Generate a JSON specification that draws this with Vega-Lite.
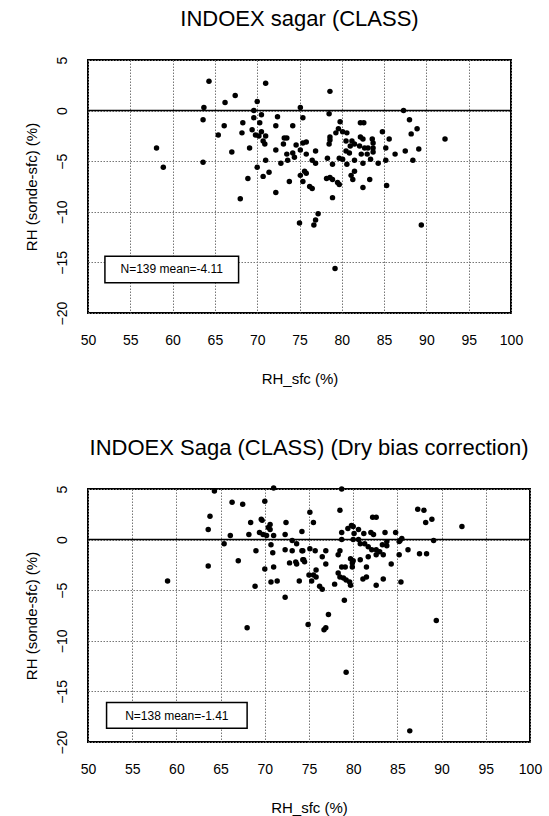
{
  "$schema": "https://vega.github.io/schema/vega-lite/v6.json",
  "background": "white",
  "padding": {"left": 23, "top": 7, "right": 5, "bottom": 2},
  "bounds": "flush",
  "spacing": 176,
  "datasets": {
    "top": [
      {"rh_sfc":64.3,"diff":2.9},{"rh_sfc":71.0,"diff":2.7},{"rh_sfc":67.4,"diff":1.5},{"rh_sfc":66.2,"diff":0.8},{"rh_sfc":70.0,"diff":0.9},
      {"rh_sfc":63.7,"diff":0.3},{"rh_sfc":69.6,"diff":0.0},{"rh_sfc":75.1,"diff":0.3},{"rh_sfc":63.6,"diff":-0.9},{"rh_sfc":69.6,"diff":-0.7},
      {"rh_sfc":70.5,"diff":-0.4},{"rh_sfc":72.4,"diff":-0.6},{"rh_sfc":75.4,"diff":-0.7},{"rh_sfc":66.1,"diff":-1.5},{"rh_sfc":68.3,"diff":-1.2},
      {"rh_sfc":70.3,"diff":-1.2},{"rh_sfc":72.2,"diff":-1.5},{"rh_sfc":74.2,"diff":-1.5},{"rh_sfc":65.4,"diff":-2.4},{"rh_sfc":68.2,"diff":-2.2},
      {"rh_sfc":69.4,"diff":-1.9},{"rh_sfc":69.8,"diff":-2.4},{"rh_sfc":70.5,"diff":-2.1},{"rh_sfc":71.0,"diff":-2.5},{"rh_sfc":70.2,"diff":-2.5},
      {"rh_sfc":73.2,"diff":-2.7},{"rh_sfc":73.5,"diff":-2.7},{"rh_sfc":70.7,"diff":-3.0},{"rh_sfc":70.9,"diff":-3.3},{"rh_sfc":73.1,"diff":-3.3},
      {"rh_sfc":74.6,"diff":-3.4},{"rh_sfc":75.4,"diff":-3.2},{"rh_sfc":58.1,"diff":-3.7},{"rh_sfc":69.1,"diff":-3.7},{"rh_sfc":72.2,"diff":-3.9},
      {"rh_sfc":75.1,"diff":-3.9},{"rh_sfc":67.0,"diff":-4.1},{"rh_sfc":73.5,"diff":-4.3},{"rh_sfc":74.2,"diff":-4.2},{"rh_sfc":74.4,"diff":-4.6},
      {"rh_sfc":73.6,"diff":-4.9},{"rh_sfc":63.6,"diff":-5.1},{"rh_sfc":71.0,"diff":-4.9},{"rh_sfc":72.8,"diff":-5.2},{"rh_sfc":58.9,"diff":-5.6},
      {"rh_sfc":70.0,"diff":-5.6},{"rh_sfc":71.4,"diff":-6.1},{"rh_sfc":70.7,"diff":-6.5},{"rh_sfc":68.9,"diff":-6.7},{"rh_sfc":73.8,"diff":-7.0},
      {"rh_sfc":75.1,"diff":-6.4},{"rh_sfc":75.4,"diff":-7.0},{"rh_sfc":78.6,"diff":1.9},{"rh_sfc":87.3,"diff":0.0},{"rh_sfc":88.0,"diff":-0.9},
      {"rh_sfc":88.9,"diff":-1.8},{"rh_sfc":88.2,"diff":-2.3},{"rh_sfc":92.2,"diff":-2.8},{"rh_sfc":78.5,"diff":-0.3},{"rh_sfc":79.8,"diff":-1.1},
      {"rh_sfc":82.2,"diff":-1.2},{"rh_sfc":82.6,"diff":-1.2},{"rh_sfc":79.6,"diff":-1.8},{"rh_sfc":80.1,"diff":-2.1},{"rh_sfc":80.6,"diff":-2.2},
      {"rh_sfc":84.8,"diff":-2.1},{"rh_sfc":79.3,"diff":-2.2},{"rh_sfc":78.6,"diff":-2.6},{"rh_sfc":78.6,"diff":-2.9},{"rh_sfc":82.2,"diff":-2.6},
      {"rh_sfc":82.5,"diff":-2.8},{"rh_sfc":83.6,"diff":-2.8},{"rh_sfc":85.6,"diff":-2.8},{"rh_sfc":80.5,"diff":-3.0},{"rh_sfc":81.2,"diff":-3.0},
      {"rh_sfc":81.5,"diff":-3.3},{"rh_sfc":81.0,"diff":-3.5},{"rh_sfc":75.8,"diff":-3.1},{"rh_sfc":78.5,"diff":-3.3},{"rh_sfc":82.1,"diff":-3.5},
      {"rh_sfc":82.7,"diff":-3.7},{"rh_sfc":83.1,"diff":-3.7},{"rh_sfc":83.7,"diff":-3.2},{"rh_sfc":83.7,"diff":-3.7},{"rh_sfc":85.2,"diff":-3.7},
      {"rh_sfc":80.5,"diff":-4.0},{"rh_sfc":80.9,"diff":-4.2},{"rh_sfc":76.9,"diff":-4.0},{"rh_sfc":82.3,"diff":-4.3},{"rh_sfc":83.0,"diff":-4.3},
      {"rh_sfc":83.7,"diff":-4.1},{"rh_sfc":86.3,"diff":-4.3},{"rh_sfc":87.5,"diff":-4.0},{"rh_sfc":89.1,"diff":-3.8},{"rh_sfc":75.8,"diff":-4.3},
      {"rh_sfc":78.3,"diff":-4.7},{"rh_sfc":79.7,"diff":-4.7},{"rh_sfc":80.1,"diff":-4.8},{"rh_sfc":76.5,"diff":-4.9},{"rh_sfc":76.9,"diff":-5.2},
      {"rh_sfc":81.5,"diff":-4.9},{"rh_sfc":82.5,"diff":-5.2},{"rh_sfc":83.4,"diff":-4.8},{"rh_sfc":84.3,"diff":-5.2},{"rh_sfc":85.2,"diff":-4.9},
      {"rh_sfc":88.4,"diff":-4.9},{"rh_sfc":78.9,"diff":-5.3},{"rh_sfc":80.6,"diff":-5.3},{"rh_sfc":75.6,"diff":-6.0},{"rh_sfc":75.8,"diff":-6.2},
      {"rh_sfc":78.2,"diff":-6.7},{"rh_sfc":78.6,"diff":-6.6},{"rh_sfc":78.9,"diff":-6.8},{"rh_sfc":81.5,"diff":-6.0},{"rh_sfc":81.3,"diff":-6.8},
      {"rh_sfc":83.3,"diff":-6.8},{"rh_sfc":79.5,"diff":-7.1},{"rh_sfc":79.7,"diff":-7.3},{"rh_sfc":81.1,"diff":-6.4},{"rh_sfc":82.5,"diff":-7.6},
      {"rh_sfc":85.3,"diff":-7.4},{"rh_sfc":76.2,"diff":-7.5},{"rh_sfc":76.5,"diff":-7.7},{"rh_sfc":78.9,"diff":-8.6},{"rh_sfc":77.2,"diff":-10.2},
      {"rh_sfc":76.9,"diff":-10.8},{"rh_sfc":76.7,"diff":-11.3},{"rh_sfc":75.0,"diff":-11.1},{"rh_sfc":89.4,"diff":-11.3},{"rh_sfc":79.2,"diff":-15.6},
      {"rh_sfc":68.0,"diff":-8.7},{"rh_sfc":72.2,"diff":-8.1}
    ],
    "bottom": [
      {"rh_sfc":64.3,"diff":4.8},{"rh_sfc":71.0,"diff":5.1},{"rh_sfc":66.3,"diff":3.7},{"rh_sfc":67.5,"diff":3.5},{"rh_sfc":70.0,"diff":3.8},
      {"rh_sfc":63.8,"diff":2.3},{"rh_sfc":63.6,"diff":1.0},{"rh_sfc":68.4,"diff":1.7},{"rh_sfc":69.6,"diff":2.0},{"rh_sfc":69.7,"diff":1.9},
      {"rh_sfc":70.6,"diff":1.5},{"rh_sfc":70.4,"diff":1.2},{"rh_sfc":70.6,"diff":1.0},{"rh_sfc":72.4,"diff":1.7},{"rh_sfc":74.2,"diff":0.8},
      {"rh_sfc":66.1,"diff":0.4},{"rh_sfc":68.2,"diff":0.5},{"rh_sfc":69.4,"diff":0.7},{"rh_sfc":69.8,"diff":0.5},{"rh_sfc":70.2,"diff":0.4},
      {"rh_sfc":71.0,"diff":0.4},{"rh_sfc":72.3,"diff":0.5},{"rh_sfc":73.1,"diff":-0.1},{"rh_sfc":73.6,"diff":-0.4},{"rh_sfc":65.4,"diff":-0.4},
      {"rh_sfc":70.7,"diff":-0.5},{"rh_sfc":69.0,"diff":-1.1},{"rh_sfc":70.9,"diff":-1.3},{"rh_sfc":72.3,"diff":-1.0},{"rh_sfc":73.1,"diff":-1.1},
      {"rh_sfc":74.2,"diff":-1.1},{"rh_sfc":67.0,"diff":-2.1},{"rh_sfc":72.8,"diff":-2.3},{"rh_sfc":73.5,"diff":-2.2},{"rh_sfc":73.6,"diff":-2.4},
      {"rh_sfc":74.3,"diff":-2.0},{"rh_sfc":63.6,"diff":-2.6},{"rh_sfc":70.0,"diff":-2.9},{"rh_sfc":71.0,"diff":-2.7},{"rh_sfc":59.0,"diff":-4.1},
      {"rh_sfc":70.7,"diff":-4.2},{"rh_sfc":71.4,"diff":-4.1},{"rh_sfc":73.9,"diff":-4.1},{"rh_sfc":68.9,"diff":-4.6},{"rh_sfc":72.3,"diff":-5.7},
      {"rh_sfc":78.7,"diff":5.0},{"rh_sfc":75.1,"diff":2.7},{"rh_sfc":78.5,"diff":2.9},{"rh_sfc":87.3,"diff":3.0},{"rh_sfc":88.0,"diff":2.9},
      {"rh_sfc":88.2,"diff":1.7},{"rh_sfc":88.9,"diff":2.0},{"rh_sfc":92.3,"diff":1.3},{"rh_sfc":75.5,"diff":1.7},{"rh_sfc":78.7,"diff":0.7},
      {"rh_sfc":78.7,"diff":0.0},{"rh_sfc":79.4,"diff":1.1},{"rh_sfc":79.8,"diff":1.4},{"rh_sfc":80.0,"diff":1.3},{"rh_sfc":80.6,"diff":1.0},
      {"rh_sfc":80.1,"diff":0.6},{"rh_sfc":80.0,"diff":0.0},{"rh_sfc":82.2,"diff":2.2},{"rh_sfc":82.6,"diff":2.2},{"rh_sfc":81.2,"diff":0.6},
      {"rh_sfc":82.0,"diff":0.7},{"rh_sfc":82.3,"diff":0.5},{"rh_sfc":83.6,"diff":0.7},{"rh_sfc":84.8,"diff":0.7},{"rh_sfc":80.6,"diff":0.0},
      {"rh_sfc":80.8,"diff":-0.4},{"rh_sfc":81.3,"diff":-0.4},{"rh_sfc":81.7,"diff":-0.7},{"rh_sfc":82.1,"diff":-1.0},{"rh_sfc":83.3,"diff":-0.5},
      {"rh_sfc":83.8,"diff":-0.2},{"rh_sfc":83.8,"diff":-0.6},{"rh_sfc":85.3,"diff":-0.1},{"rh_sfc":85.5,"diff":0.1},{"rh_sfc":85.2,"diff":-0.2},
      {"rh_sfc":89.1,"diff":-0.1},{"rh_sfc":86.2,"diff":-1.0},{"rh_sfc":87.5,"diff":-1.4},{"rh_sfc":88.3,"diff":-1.4},{"rh_sfc":85.2,"diff":-1.5},
      {"rh_sfc":74.3,"diff":-1.1},{"rh_sfc":74.4,"diff":-2.0},{"rh_sfc":74.5,"diff":-2.2},{"rh_sfc":75.1,"diff":-0.9},{"rh_sfc":75.7,"diff":-1.1},
      {"rh_sfc":76.9,"diff":-1.1},{"rh_sfc":76.5,"diff":-1.7},{"rh_sfc":76.9,"diff":-2.4},{"rh_sfc":78.5,"diff":-1.1},{"rh_sfc":78.3,"diff":-1.5},
      {"rh_sfc":79.7,"diff":-1.9},{"rh_sfc":80.0,"diff":-2.1},{"rh_sfc":79.9,"diff":-2.3},{"rh_sfc":79.9,"diff":-2.7},{"rh_sfc":80.8,"diff":-2.0},
      {"rh_sfc":81.7,"diff":-1.7},{"rh_sfc":82.6,"diff":-1.5},{"rh_sfc":82.6,"diff":-1.0},{"rh_sfc":83.0,"diff":-1.2},{"rh_sfc":83.4,"diff":-1.5},
      {"rh_sfc":84.3,"diff":-2.4},{"rh_sfc":81.5,"diff":-2.7},{"rh_sfc":78.7,"diff":-2.7},{"rh_sfc":79.1,"diff":-2.7},{"rh_sfc":75.0,"diff":-3.5},
      {"rh_sfc":75.5,"diff":-3.5},{"rh_sfc":75.8,"diff":-3.0},{"rh_sfc":75.8,"diff":-3.7},{"rh_sfc":75.3,"diff":-4.1},{"rh_sfc":78.3,"diff":-3.3},
      {"rh_sfc":78.5,"diff":-3.7},{"rh_sfc":78.9,"diff":-3.8},{"rh_sfc":79.2,"diff":-4.0},{"rh_sfc":79.6,"diff":-4.2},{"rh_sfc":79.7,"diff":-4.5},
      {"rh_sfc":76.2,"diff":-4.6},{"rh_sfc":76.5,"diff":-4.9},{"rh_sfc":77.9,"diff":-4.4},{"rh_sfc":81.1,"diff":-3.9},{"rh_sfc":81.5,"diff":-3.7},
      {"rh_sfc":82.6,"diff":-4.5},{"rh_sfc":83.4,"diff":-3.9},{"rh_sfc":85.4,"diff":-4.2},{"rh_sfc":79.0,"diff":-6.0},{"rh_sfc":77.2,"diff":-7.4},
      {"rh_sfc":74.9,"diff":-8.4},{"rh_sfc":76.9,"diff":-8.7},{"rh_sfc":76.7,"diff":-8.9},{"rh_sfc":89.4,"diff":-8.0},{"rh_sfc":79.2,"diff":-13.1},
      {"rh_sfc":86.4,"diff":-18.9},{"rh_sfc":68.0,"diff":-8.7}
    ],
    "topNote": [{"x1":52.0,"x2":67.8,"y1":-14.4,"y2":-17.0,"xc":59.9,"yc":-15.7,"label":"N=139 mean=-4.11"}],
    "bottomNote": [{"x1":52.1,"x2":68.0,"y1":-16.1,"y2":-18.65,"xc":60.05,"yc":-17.4,"label":"N=138 mean=-1.41"}]
  },
  "vconcat": [
    {
      "width": 423,
      "height": 253,
      "title": "INDOEX sagar (CLASS)",
      "layer": [
        {
          "data": {"name": "top"},
          "mark": {"type": "circle", "size": 30, "color": "black", "opacity": 1},
          "encoding": {
            "x": {"field": "rh_sfc", "type": "quantitative", "title": "RH_sfc (%)", "scale": {"domain": [50, 100], "nice": false, "zero": false}, "axis": {"values": [50,55,60,65,70,75,80,85,90,95,100]}},
            "y": {"field": "diff", "type": "quantitative", "title": "RH (sonde-sfc) (%)", "scale": {"domain": [-20, 5], "nice": false, "zero": false}, "axis": {"values": [-20,-15,-10,-5,0,5]}}
          }
        },
        {
          "data": {"name": "topNote"},
          "mark": {"type": "rule", "color": "black", "strokeWidth": 1.5},
          "encoding": {"y": {"datum": 0, "type": "quantitative", "title": "RH (sonde-sfc) (%)"}}
        },
        {
          "data": {"name": "topNote"},
          "mark": {"type": "rect", "fill": "white", "stroke": "black", "strokeWidth": 1.5},
          "encoding": {
            "x": {"field": "x1", "type": "quantitative", "title": "RH_sfc (%)"}, "x2": {"field": "x2"},
            "y": {"field": "y1", "type": "quantitative", "title": "RH (sonde-sfc) (%)"}, "y2": {"field": "y2"}
          }
        },
        {
          "data": {"name": "topNote"},
          "mark": {"type": "text", "fontSize": 12, "color": "black", "font": "Liberation Sans"},
          "encoding": {
            "x": {"field": "xc", "type": "quantitative", "title": "RH_sfc (%)"},
            "y": {"field": "yc", "type": "quantitative", "title": "RH (sonde-sfc) (%)"},
            "text": {"field": "label"}
          }
        }
      ]
    },
    {
      "width": 442,
      "height": 253,
      "title": "INDOEX Saga (CLASS) (Dry bias correction)",
      "layer": [
        {
          "data": {"name": "bottom"},
          "mark": {"type": "circle", "size": 30, "color": "black", "opacity": 1},
          "encoding": {
            "x": {"field": "rh_sfc", "type": "quantitative", "title": "RH_sfc (%)", "scale": {"domain": [50, 100], "nice": false, "zero": false}, "axis": {"values": [50,55,60,65,70,75,80,85,90,95,100]}},
            "y": {"field": "diff", "type": "quantitative", "title": "RH (sonde-sfc) (%)", "scale": {"domain": [-20, 5], "nice": false, "zero": false}, "axis": {"values": [-20,-15,-10,-5,0,5]}}
          }
        },
        {
          "data": {"name": "bottomNote"},
          "mark": {"type": "rule", "color": "black", "strokeWidth": 1.5},
          "encoding": {"y": {"datum": 0, "type": "quantitative", "title": "RH (sonde-sfc) (%)"}}
        },
        {
          "data": {"name": "bottomNote"},
          "mark": {"type": "rect", "fill": "white", "stroke": "black", "strokeWidth": 1.5},
          "encoding": {
            "x": {"field": "x1", "type": "quantitative", "title": "RH_sfc (%)"}, "x2": {"field": "x2"},
            "y": {"field": "y1", "type": "quantitative", "title": "RH (sonde-sfc) (%)"}, "y2": {"field": "y2"}
          }
        },
        {
          "data": {"name": "bottomNote"},
          "mark": {"type": "text", "fontSize": 12, "color": "black", "font": "Liberation Sans"},
          "encoding": {
            "x": {"field": "xc", "type": "quantitative", "title": "RH_sfc (%)"},
            "y": {"field": "yc", "type": "quantitative", "title": "RH (sonde-sfc) (%)"},
            "text": {"field": "label"}
          }
        }
      ]
    }
  ],
  "config": {
    "font": "Liberation Sans",
    "view": {"stroke": "black", "strokeWidth": 2},
    "title": {"fontSize": 22, "fontWeight": "normal", "color": "black", "font": "Liberation Sans", "offset": 25, "anchor": "middle"},
    "axis": {
      "grid": true, "gridColor": "#777", "gridDash": [1.5, 1.5], "gridWidth": 1,
      "domain": false, "ticks": false, "tickSize": 0,
      "labelFont": "Liberation Sans", "labelFontSize": 14, "labelColor": "black",
      "titleFont": "Liberation Sans", "titleFontSize": 15, "titleFontWeight": "normal", "titleColor": "black"
    },
    "axisX": {"labelPadding": 20, "titlePadding": 24, "labelFlush": false},
    "axisY": {"labelPadding": 19, "labelAngle": 270, "labelAlign": "center", "labelBaseline": "bottom", "titlePadding": 16, "labelFlush": false}
  }
}
